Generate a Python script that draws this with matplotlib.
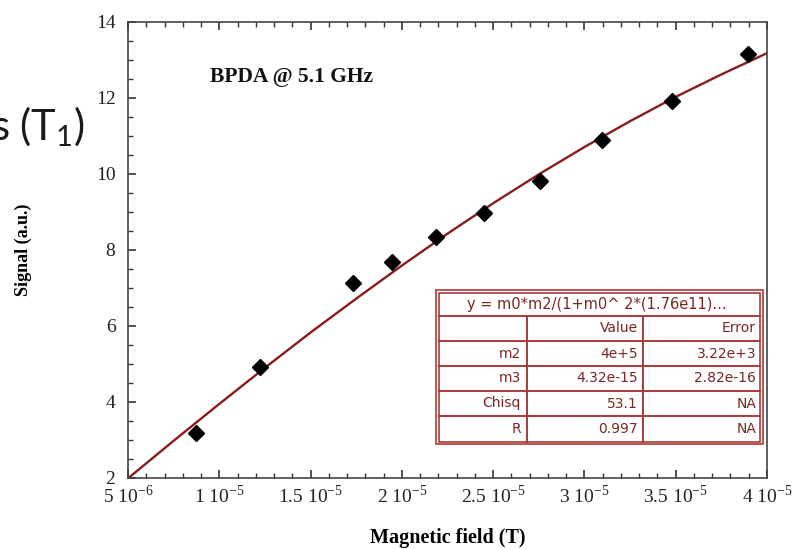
import numpy as np
import matplotlib.pyplot as plt
from matplotlib.ticker import FixedLocator, MultipleLocator
from matplotlib.patches import Rectangle

# measured points (field in T, signal in a.u.)
field = [8.7e-6, 1.223e-5, 1.732e-5, 1.944e-5, 2.187e-5, 2.45e-5, 2.757e-5, 3.096e-5, 3.48e-5, 3.896e-5]
signal = [3.18, 4.92, 7.13, 7.68, 8.34, 8.97, 9.82, 10.89, 11.92, 13.16]

# fitted curve
fit_field = [5e-6, 7.5e-6, 1e-5, 1.25e-5, 1.5e-5, 1.75e-5, 2e-5, 2.25e-5, 2.5e-5,
             2.75e-5, 3e-5, 3.25e-5, 3.5e-5, 3.75e-5, 4e-5]
fit_signal = [1.99, 2.98, 3.95, 4.90, 5.83, 6.72, 7.59, 8.43, 9.23,
              9.99, 10.71, 11.39, 12.03, 12.62, 13.18]

xticks = [5e-6, 1e-5, 1.5e-5, 2e-5, 2.5e-5, 3e-5, 3.5e-5, 4e-5]
xtick_labels = ["5 10$^{\\mathregular{-6}}$", "1 10$^{\\mathregular{-5}}$", "1.5 10$^{\\mathregular{-5}}$",
                "2 10$^{\\mathregular{-5}}$", "2.5 10$^{\\mathregular{-5}}$", "3 10$^{\\mathregular{-5}}$",
                "3.5 10$^{\\mathregular{-5}}$", "4 10$^{\\mathregular{-5}}$"]
yticks = [2, 4, 6, 8, 10, 12, 14]

table_title = "y = m0*m2/(1+m0^ 2*(1.76e11)..."
table_rows = [["", "Value", "Error"],
              ["m2", "4e+5", "3.22e+3"],
              ["m3", "4.32e-15", "2.82e-16"],
              ["Chisq", "53.1", "NA"],
              ["R", "0.997", "NA"]]

serif = "Liberation Serif"
W, H = 792, 549
fig = plt.figure(figsize=(W / 100, H / 100), dpi=100)
ax = fig.add_axes([128 / W, 1 - 478 / H, 639 / W, 456 / H])

ax.plot(fit_field, fit_signal, color="#8b1c1c", lw=1.7, zorder=2)
ax.plot(field, signal, "D", color="black", markersize=8, zorder=3)

ax.set_xlim(5e-6, 4e-5)
ax.set_ylim(2, 14)
ax.xaxis.set_major_locator(FixedLocator(xticks))
ax.set_xticklabels(xtick_labels)
ax.xaxis.set_minor_locator(MultipleLocator(1e-6))
ax.set_yticks(yticks)
ax.yaxis.set_minor_locator(MultipleLocator(0.5))
ax.tick_params(which="both", direction="in", top=True, right=False, color="#333333")
ax.tick_params(which="major", length=6, width=1.2)
ax.tick_params(which="minor", length=3.5, width=1)
ax.tick_params(axis="x", pad=5)
ax.tick_params(axis="y", pad=9)
for lab in ax.get_xticklabels() + ax.get_yticklabels():
    lab.set_fontfamily(serif)
    lab.set_fontsize(14)
    lab.set_color("#222222")
for s in ax.spines.values():
    s.set_color("#444444")
    s.set_linewidth(1.2)

ax.set_xlabel("Magnetic field (T)", fontfamily=serif, fontweight="bold", fontsize=14.5)
ax.xaxis.set_label_coords(0.5, -0.11)
ax.set_ylabel("Signal (a.u.)", fontfamily=serif, fontweight="bold", fontsize=13)
ax.yaxis.set_label_coords(-0.15, 0.5)

ax.text(292 / W, 1 - 77 / H, "BPDA @ 5.1 GHz", transform=fig.transFigure, ha="center", va="center",
        fontfamily=serif, fontweight="bold", fontsize=15.5, color="#111111")

# big partially clipped slide text
fig.text(85 / W, 1 - 140 / H, "s (T$_\\mathregular{1}$)", ha="right", va="baseline",
         fontfamily="Lato", fontsize=30, color="#1a1a1a")

# fit result table drawn in pixel coordinates
tab = fig.add_axes([0, 0, 1, 1], facecolor="none")
tab.set_xlim(0, W)
tab.set_ylim(H, 0)
tab.axis("off")
bc = "#a83a3a"
tc = "#7a2525"
tab.add_patch(Rectangle((436, 290), 327, 154, facecolor="white", edgecolor=bc, lw=1.2))
tab.add_patch(Rectangle((439, 292.5), 321, 149, facecolor="none", edgecolor=bc, lw=1.2))
row_y = [316, 341, 366, 391, 416]
for y in row_y:
    tab.plot([439, 760], [y, y], color=bc, lw=1.4)
for x in [527, 643]:
    tab.plot([x, x], [316, 441.5], color=bc, lw=1.4)
tab.text(597, 304, table_title, ha="center", va="center", fontfamily="DejaVu Sans", fontsize=10.5, color=tc)
col_right = [521, 638, 756]
for r, row in enumerate(table_rows):
    yc = (row_y[r] + (row_y[r + 1] if r + 1 < len(row_y) else 441.5)) / 2
    for c, val in enumerate(row):
        tab.text(col_right[c], yc, val, ha="right", va="center", fontfamily="DejaVu Sans",
                 fontsize=10, color=tc)

fig.savefig("out.png", dpi=100)
